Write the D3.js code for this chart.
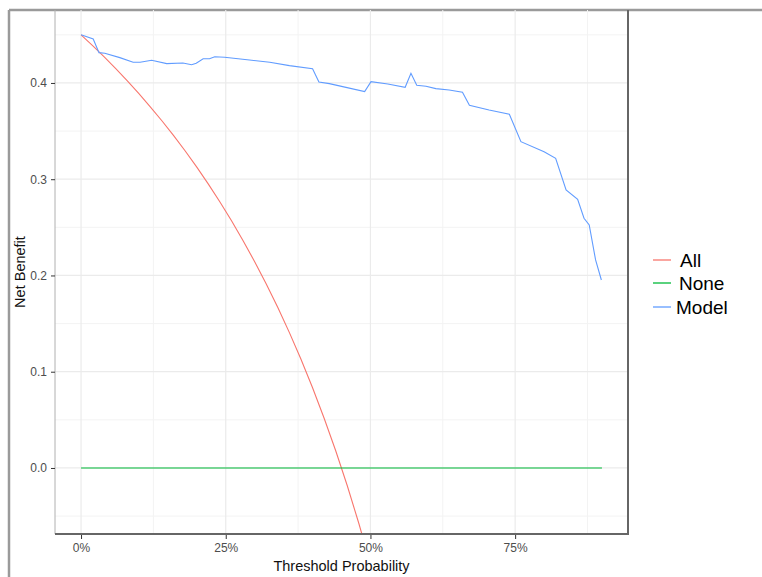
<!doctype html>
<html>
<head>
<meta charset="utf-8">
<script src="https://cdnjs.cloudflare.com/ajax/libs/d3/7.8.5/d3.min.js"></script>
<style>
  body { margin: 0; background: #fff; }
  svg { display: block; font-family: "Liberation Sans", Arial, sans-serif; }
</style>
</head>
<body>
<svg id="chart" width="762" height="577"></svg>
<script>
// data
var seriesNames = ["All", "None", "Model"];
var seriesColors = ["#F8766D", "#00BA38", "#619CFF"];

var allThreshold = [0, 0.02, 0.04, 0.06, 0.08, 0.10, 0.12, 0.14, 0.16, 0.18, 0.20, 0.22, 0.24,
  0.26, 0.28, 0.30, 0.32, 0.34, 0.36, 0.38, 0.40, 0.42, 0.44, 0.46, 0.48, 0.50];
var allBenefit = [0.450, 0.4388, 0.4271, 0.4149, 0.4022, 0.3889, 0.3750, 0.3605, 0.3452, 0.3293,
  0.3125, 0.2949, 0.2763, 0.2568, 0.2361, 0.2143, 0.1912, 0.1667, 0.1406, 0.1129, 0.0833,
  0.0517, 0.0179, -0.0185, -0.0577, -0.1000];

var noneThreshold = [0, 0.9];
var noneBenefit = [0, 0];

var modelThreshold = [0.000, 0.021, 0.031, 0.041, 0.067, 0.090, 0.102, 0.122, 0.148, 0.176, 0.191,
  0.199, 0.211, 0.222, 0.231, 0.248, 0.291, 0.326, 0.360, 0.400, 0.411, 0.429, 0.452, 0.490,
  0.501, 0.530, 0.560, 0.570, 0.580, 0.596, 0.613, 0.636, 0.659, 0.671, 0.705, 0.740, 0.760,
  0.800, 0.820, 0.838, 0.858, 0.869, 0.878, 0.889, 0.899];
var modelBenefit = [0.4500, 0.4457, 0.4315, 0.4308, 0.4263, 0.4215, 0.4215, 0.4236, 0.4201, 0.4208,
  0.4190, 0.4204, 0.4252, 0.4252, 0.4273, 0.4267, 0.4239, 0.4215, 0.4180, 0.4148, 0.4010,
  0.3993, 0.3962, 0.3910, 0.4014, 0.3990, 0.3955, 0.4101, 0.3976, 0.3966, 0.3941, 0.3927,
  0.3903, 0.3768, 0.3719, 0.3675, 0.3390, 0.3286, 0.3217, 0.2888, 0.2792, 0.2594, 0.2525,
  0.2161, 0.1953];

var xTicks = [0, 0.25, 0.5, 0.75];
var xMinor = [0.125, 0.375, 0.625, 0.875];
var yTicks = [0, 0.1, 0.2, 0.3, 0.4];
var yMinor = [-0.05, 0.05, 0.15, 0.25, 0.35, 0.45];

var panel = {left: 55, right: 628, top: 10, bottom: 534};

var svg = d3.select("#chart");

var x = d3.scaleLinear().domain([-0.045, 0.945]).range([panel.left, panel.right]);
var y = d3.scaleLinear().domain([-0.0686, 0.4758]).range([panel.bottom, panel.top]);

// outer frame of the screenshot
svg.append("line").attr("x1", 9).attr("x2", 9).attr("y1", 10).attr("y2", 577)
  .attr("stroke", "#9a9a9a").attr("stroke-width", 2.5);
svg.append("line").attr("x1", 9).attr("x2", 762).attr("y1", 10).attr("y2", 10)
  .attr("stroke", "#9a9a9a").attr("stroke-width", 2.5);

var grid = svg.append("g");
grid.selectAll(".ymin").data(yMinor).enter().append("line")
  .attr("x1", panel.left).attr("x2", panel.right)
  .attr("y1", d => y(d)).attr("y2", d => y(d))
  .attr("stroke", "#f3f3f3").attr("stroke-width", 1);
grid.selectAll(".xmin").data(xMinor).enter().append("line")
  .attr("y1", panel.top).attr("y2", panel.bottom)
  .attr("x1", d => x(d)).attr("x2", d => x(d))
  .attr("stroke", "#f3f3f3").attr("stroke-width", 1);
grid.selectAll(".ymaj").data(yTicks).enter().append("line")
  .attr("x1", panel.left).attr("x2", panel.right)
  .attr("y1", d => y(d)).attr("y2", d => y(d))
  .attr("stroke", "#ebebeb").attr("stroke-width", 1.2);
grid.selectAll(".xmaj").data(xTicks).enter().append("line")
  .attr("y1", panel.top).attr("y2", panel.bottom)
  .attr("x1", d => x(d)).attr("x2", d => x(d))
  .attr("stroke", "#ebebeb").attr("stroke-width", 1.2);

svg.append("clipPath").attr("id", "clip").append("rect")
  .attr("x", panel.left).attr("y", panel.top)
  .attr("width", panel.right - panel.left).attr("height", panel.bottom - panel.top);

var line = d3.line().x(d => x(d[0])).y(d => y(d[1]));
var series = [
  d3.zip(allThreshold, allBenefit),
  d3.zip(noneThreshold, noneBenefit),
  d3.zip(modelThreshold, modelBenefit)
];

svg.append("g").attr("clip-path", "url(#clip)")
  .selectAll("path").data(series).enter().append("path")
  .attr("d", line)
  .attr("fill", "none")
  .attr("stroke", (d, i) => seriesColors[i])
  .attr("stroke-width", 1.1);

// panel border
svg.append("line").attr("x1", panel.left).attr("x2", panel.left)
  .attr("y1", panel.top).attr("y2", panel.bottom).attr("stroke", "#b0b0b0").attr("stroke-width", 1);
svg.append("line").attr("x1", panel.right).attr("x2", panel.right)
  .attr("y1", panel.top).attr("y2", panel.bottom).attr("stroke", "#666").attr("stroke-width", 2);
svg.append("line").attr("x1", panel.left).attr("x2", panel.right + 1)
  .attr("y1", panel.bottom).attr("y2", panel.bottom).attr("stroke", "#666").attr("stroke-width", 2);

// axes
var xAxis = d3.axisBottom(x).tickValues(xTicks).tickSize(4).tickPadding(4)
  .tickFormat(d3.format(".0%"));
var gx = svg.append("g").attr("transform", "translate(0," + (panel.bottom + 1) + ")").call(xAxis);
gx.select(".domain").remove();

var yAxis = d3.axisLeft(y).tickValues(yTicks).tickSize(4).tickPadding(4)
  .tickFormat(d3.format(".1f"));
var gy = svg.append("g").attr("transform", "translate(" + panel.left + ",0)").call(yAxis);
gy.select(".domain").remove();

svg.selectAll(".tick line").attr("stroke", "#333");
svg.selectAll(".tick text").attr("fill", "#4d4d4d")
  .style("font-size", "12px").style("font-family", "'Liberation Sans', Arial, sans-serif");

svg.append("text").attr("x", (panel.left + panel.right) / 2).attr("y", 571)
  .attr("text-anchor", "middle").style("font-size", "14.5px").attr("fill", "#111")
  .text("Threshold Probability");
svg.append("text")
  .attr("transform", "translate(25," + ((panel.top + panel.bottom) / 2) + ") rotate(-90)")
  .attr("text-anchor", "middle").style("font-size", "14.5px").attr("fill", "#111")
  .text("Net Benefit");

// legend
var legendY = [260, 283, 307];
var legendX = [680, 679, 676];
var legend = svg.append("g");
seriesNames.forEach(function(name, i) {
  legend.append("line").attr("x1", 653).attr("x2", 671)
    .attr("y1", legendY[i]).attr("y2", legendY[i])
    .attr("stroke", seriesColors[i]).attr("stroke-width", 1.3);
  legend.append("text").attr("x", legendX[i]).attr("y", legendY[i] + 6.5)
    .style("font-size", "19px").attr("fill", "#000")
    .text(name);
});
</script>
</body>
</html>
